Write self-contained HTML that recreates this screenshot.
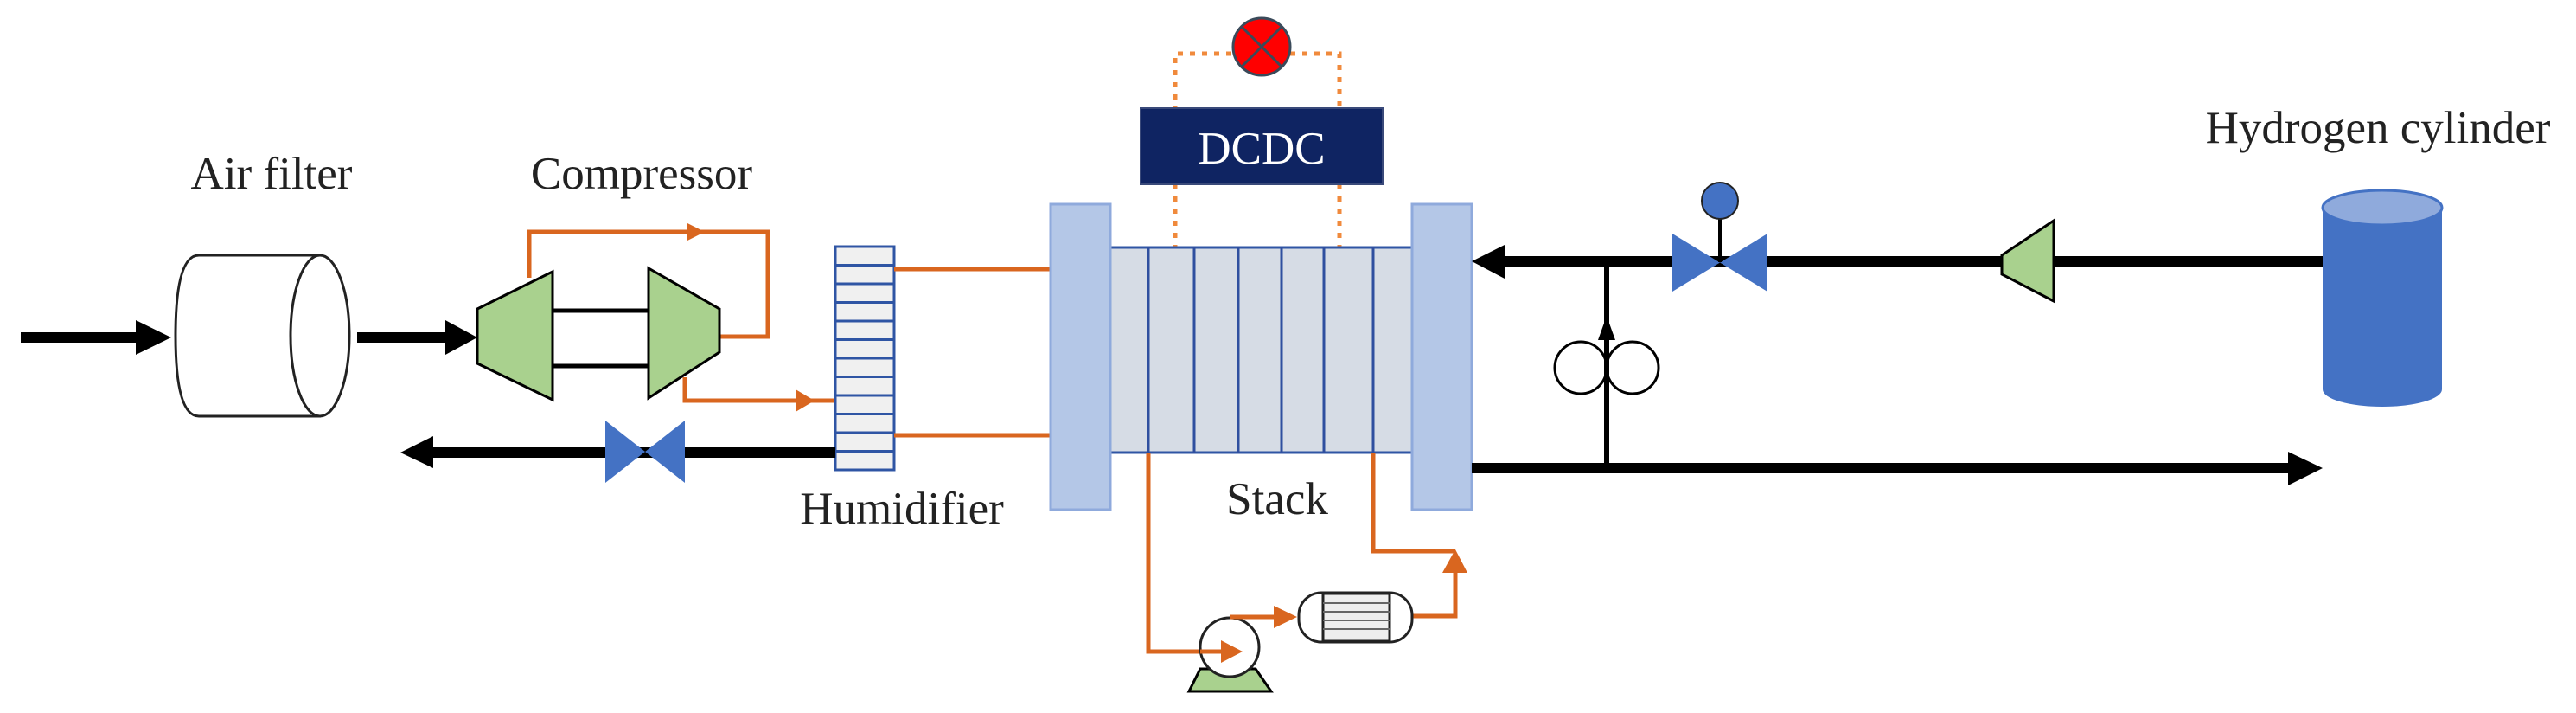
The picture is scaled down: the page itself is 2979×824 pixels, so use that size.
<!DOCTYPE html>
<html><head><meta charset="utf-8"><style>
html,body{margin:0;padding:0;background:#fff}
svg{display:block}
text{font-family:"Liberation Serif",serif}
</style></head><body>
<svg width="2979" height="824" viewBox="0 0 2979 824" xmlns="http://www.w3.org/2000/svg">
<!-- labels -->
<text x="314" y="218" font-size="53" text-anchor="middle" fill="#222">Air filter</text>
<text x="742" y="218" font-size="53" text-anchor="middle" fill="#222">Compressor</text>
<text x="1043" y="605" font-size="53" text-anchor="middle" fill="#222">Humidifier</text>
<text x="1477" y="594" font-size="53" text-anchor="middle" fill="#222">Stack</text>
<text x="2750" y="165" font-size="53" text-anchor="middle" fill="#222">Hydrogen cylinder</text>

<!-- inlet arrow -->
<line x1="24" y1="390" x2="165" y2="390" stroke="#000" stroke-width="12"/>
<polygon points="157,370 198,390 157,410" fill="#000"/>
<!-- air filter -->
<path d="M230,295 L371,295 M230,481 L371,481" stroke="#222" stroke-width="3" fill="none"/>
<path d="M230,295 Q203,295 203,388 Q203,481 230,481" stroke="#222" stroke-width="3" fill="none"/>
<ellipse cx="370" cy="388" rx="34" ry="93" fill="#fff" stroke="#222" stroke-width="3"/>
<!-- arrow to compressor -->
<line x1="413" y1="390" x2="520" y2="390" stroke="#000" stroke-width="12"/>
<polygon points="515,370 552,390 515,410" fill="#000"/>
<!-- orange loop -->
<polyline points="612,321 612,268 888,268 888,389 832,389" fill="none" stroke="#d9661f" stroke-width="5"/>
<polygon points="795,258 815,268 795,278" fill="#d9661f"/>
<polyline points="792,436 792,463 966,463" fill="none" stroke="#d9661f" stroke-width="5"/>
<polygon points="920,450 942,463 920,476" fill="#d9661f"/>
<!-- compressor -->
<line x1="639" y1="359" x2="750" y2="359" stroke="#000" stroke-width="5"/>
<line x1="639" y1="423" x2="750" y2="423" stroke="#000" stroke-width="5"/>
<polygon points="552,357 639,314 639,462 552,420" fill="#a9d18e" stroke="#000" stroke-width="3"/>
<polygon points="750,310 832,357 832,407 750,460" fill="#a9d18e" stroke="#000" stroke-width="3"/>
<!-- humidifier -->
<rect x="966" y="285" width="68" height="258" fill="#f0f0f0" stroke="#2f55a4" stroke-width="3"/>
<g stroke="#2f55a4" stroke-width="3">
<line x1="966" y1="306.5" x2="1034" y2="306.5"/><line x1="966" y1="328" x2="1034" y2="328"/>
<line x1="966" y1="349.5" x2="1034" y2="349.5"/><line x1="966" y1="371" x2="1034" y2="371"/>
<line x1="966" y1="392.5" x2="1034" y2="392.5"/><line x1="966" y1="414" x2="1034" y2="414"/>
<line x1="966" y1="435.5" x2="1034" y2="435.5"/><line x1="966" y1="457" x2="1034" y2="457"/>
<line x1="966" y1="478.5" x2="1034" y2="478.5"/><line x1="966" y1="500" x2="1034" y2="500"/>
<line x1="966" y1="521.5" x2="1034" y2="521.5"/>
</g>
<line x1="1034" y1="311" x2="1215" y2="311" stroke="#d9661f" stroke-width="5"/>
<line x1="1034" y1="503" x2="1215" y2="503" stroke="#d9661f" stroke-width="5"/>
<!-- exhaust -->
<line x1="966" y1="523" x2="495" y2="523" stroke="#000" stroke-width="12"/>
<polygon points="463,523 501,504 501,541" fill="#000"/>
<polygon points="700,486 700,558 792,486 792,558" fill="#4472c4"/>
<!-- DCDC dotted -->
<g stroke="#f08a3c" stroke-width="5" stroke-dasharray="6,8" fill="none">
<polyline points="1359,129 1359,62 1426,62"/>
<polyline points="1492,62 1549,62 1549,129"/>
<line x1="1359" y1="213" x2="1359" y2="288"/>
<line x1="1549" y1="213" x2="1549" y2="288"/>
</g>
<circle cx="1459" cy="54" r="33" fill="#ff0000" stroke="#3a4a5a" stroke-width="3"/>
<line x1="1436" y1="31" x2="1482" y2="77" stroke="#3a4a5a" stroke-width="3"/>
<line x1="1482" y1="31" x2="1436" y2="77" stroke="#3a4a5a" stroke-width="3"/>
<rect x="1319" y="125" width="280" height="88" fill="#0f2462" stroke="#3a4a7a" stroke-width="2"/>
<text x="1459" y="189" font-size="53" text-anchor="middle" fill="#fff">DCDC</text>
<!-- stack -->
<rect x="1284" y="286" width="349" height="237" fill="#d6dce5" stroke="#2f55a4" stroke-width="3"/>
<g stroke="#2f4f9f" stroke-width="3">
<line x1="1328" y1="286" x2="1328" y2="523"/><line x1="1381" y1="286" x2="1381" y2="523"/>
<line x1="1432" y1="286" x2="1432" y2="523"/><line x1="1482" y1="286" x2="1482" y2="523"/>
<line x1="1531" y1="286" x2="1531" y2="523"/><line x1="1588" y1="286" x2="1588" y2="523"/>
</g>
<rect x="1215" y="236" width="69" height="353" fill="#b4c7e7" stroke="#8faadc" stroke-width="3"/>
<rect x="1633" y="236" width="69" height="353" fill="#b4c7e7" stroke="#8faadc" stroke-width="3"/>
<!-- coolant loop -->
<polyline points="1328,523 1328,753 1430,753" fill="none" stroke="#d9661f" stroke-width="5"/>
<polyline points="1588,523 1588,637 1683,637" fill="none" stroke="#d9661f" stroke-width="5"/>
<polyline points="1633,712 1683,712 1683,655" fill="none" stroke="#d9661f" stroke-width="5"/>
<polygon points="1668,662 1683,635 1697,662" fill="#d9661f"/>
<polygon points="1388,773 1452,773 1470,799 1375,799" fill="#a9d18e" stroke="#000" stroke-width="3"/>
<circle cx="1422" cy="748" r="34" fill="#fff" stroke="#222" stroke-width="3"/>
<line x1="1388" y1="753" x2="1420" y2="753" stroke="#d9661f" stroke-width="5"/>
<polygon points="1412,740 1437,753 1412,766" fill="#d9661f"/>
<line x1="1422" y1="713" x2="1480" y2="713" stroke="#d9661f" stroke-width="5"/>
<polygon points="1473,700 1500,713 1473,726" fill="#d9661f"/>
<rect x="1502" y="685" width="131" height="57" rx="26" fill="#fff" stroke="#222" stroke-width="3"/>
<rect x="1530" y="686" width="77" height="55" fill="#eee" stroke="#222" stroke-width="3"/>
<g stroke="#666" stroke-width="2">
<line x1="1530" y1="697" x2="1607" y2="697"/><line x1="1530" y1="707" x2="1607" y2="707"/>
<line x1="1530" y1="717" x2="1607" y2="717"/><line x1="1530" y1="727" x2="1607" y2="727"/>
</g>
<!-- hydrogen side -->
<line x1="1735" y1="302" x2="2686" y2="302" stroke="#000" stroke-width="12"/>
<polygon points="1702,302 1740,283 1740,322" fill="#000"/>
<line x1="1702" y1="541" x2="2650" y2="541" stroke="#000" stroke-width="12"/>
<polygon points="2646,522 2686,541 2646,561" fill="#000"/>
<line x1="1858" y1="302" x2="1858" y2="541" stroke="#000" stroke-width="6"/>
<polygon points="1848,393 1858,365 1868,393" fill="#000"/>
<circle cx="1828" cy="425" r="30" fill="none" stroke="#000" stroke-width="3"/>
<circle cx="1888" cy="425" r="30" fill="none" stroke="#000" stroke-width="3"/>
<polygon points="1934,270 1934,337 2044,270 2044,337" fill="#4472c4"/>
<line x1="1989" y1="250" x2="1989" y2="303" stroke="#000" stroke-width="4"/>
<circle cx="1989" cy="232" r="21" fill="#4472c4" stroke="#222" stroke-width="2"/>
<polygon points="2315,295 2375,255 2375,348 2315,317" fill="#a9d18e" stroke="#000" stroke-width="3"/>
<path d="M2686,240 L2686,450 A69,20 0 0 0 2824,450 L2824,240 Z" fill="#4472c4"/>
<ellipse cx="2755" cy="240" rx="69" ry="20" fill="#8faadc" stroke="#4472c4" stroke-width="3"/>
</svg>
</body></html>
